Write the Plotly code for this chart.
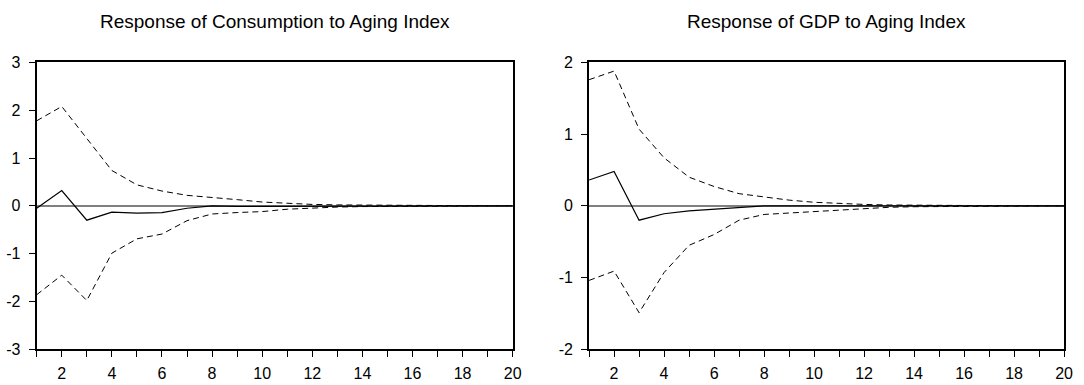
import plotly.graph_objects as go

periods = list(range(1, 21))

cons_resp = [-0.05, 0.32, -0.30, -0.13, -0.15, -0.14, -0.05, 0.0, -0.01, -0.01,
             -0.01, -0.005, 0.0, 0.0, 0.0, 0.0, 0.0, 0.0, 0.0, 0.0]
cons_upper = [1.78, 2.08, 1.41, 0.74, 0.44, 0.31, 0.22, 0.18, 0.13, 0.08,
              0.05, 0.03, 0.02, 0.015, 0.01, 0.005, 0.003, 0.002, 0.001, 0.001]
cons_lower = [-1.86, -1.45, -1.98, -0.99, -0.69, -0.59, -0.31, -0.17, -0.14, -0.12,
              -0.07, -0.04, -0.025, -0.015, -0.01, -0.005, -0.003, -0.002, -0.001, -0.001]

gdp_resp = [0.36, 0.48, -0.20, -0.11, -0.07, -0.05, -0.02, 0.0, 0.0, -0.005,
            0.0, 0.0, 0.0, 0.0, 0.0, 0.0, 0.0, 0.0, 0.0, 0.0]
gdp_upper = [1.76, 1.88, 1.07, 0.67, 0.40, 0.27, 0.17, 0.12, 0.08, 0.05,
             0.03, 0.02, 0.012, 0.008, 0.005, 0.003, 0.002, 0.001, 0.001, 0.0]
gdp_lower = [-1.04, -0.91, -1.49, -0.93, -0.55, -0.40, -0.20, -0.12, -0.10, -0.08,
             -0.05, -0.03, -0.02, -0.012, -0.008, -0.005, -0.003, -0.002, -0.001, 0.0]

titles = ["Response of Consumption to Aging Index", "Response of GDP to Aging Index"]
cons_yticks = [-3, -2, -1, 0, 1, 2, 3]
gdp_yticks = [-2, -1, 0, 1, 2]
x_ticks = [2, 4, 6, 8, 10, 12, 14, 16, 18, 20]

W, H = 1084, 385
FONT = "Liberation Sans, Arial, sans-serif"

fig = go.Figure()

panels = [
    (cons_resp, cons_upper, cons_lower, "x", "y"),
    (gdp_resp, gdp_upper, gdp_lower, "x2", "y2"),
]
for resp, up, lo, xa, ya in panels:
    fig.add_trace(go.Scatter(x=periods, y=up, mode="lines", xaxis=xa, yaxis=ya,
                             line=dict(color="black", width=1, dash="6px,4px"),
                             showlegend=False, hoverinfo="skip"))
    fig.add_trace(go.Scatter(x=periods, y=lo, mode="lines", xaxis=xa, yaxis=ya,
                             line=dict(color="black", width=1, dash="6px,4px"),
                             showlegend=False, hoverinfo="skip"))
    fig.add_trace(go.Scatter(x=periods, y=resp, mode="lines", xaxis=xa, yaxis=ya,
                             line=dict(color="black", width=1.2),
                             showlegend=False))

dom_x = [[37 / W, 517 / W], [594 / W, 1073 / W]]
dom_y = [(H - 357) / H, (H - 57) / H]

def xaxis(d):
    return dict(domain=d, range=[1, 20], tickmode="array", tickvals=x_ticks,
                ticktext=[str(v) for v in x_ticks],
                ticks="outside", ticklen=6, tickcolor="black", tickwidth=1,
                minor=dict(ticks="outside", tickmode="linear", dtick=1, tick0=1,
                           ticklen=6, tickcolor="black", tickwidth=1),
                showline=True, linecolor="black", linewidth=2, mirror=True,
                showgrid=False, zeroline=False, ticklabelstandoff=3,
                tickfont=dict(family=FONT, size=16, color="black"))

def yaxis(ticks, anchor):
    return dict(domain=dom_y, range=[ticks[0], ticks[-1]], anchor=anchor,
                tickmode="array", tickvals=ticks, ticktext=[str(v) for v in ticks],
                ticks="outside", ticklen=6, tickcolor="black", tickwidth=1,
                showline=True, linecolor="black", linewidth=2, mirror=True,
                showgrid=False, zeroline=True, zerolinecolor="#808080",
                zerolinewidth=1.5, ticklabelstandoff=5,
                tickfont=dict(family=FONT, size=16, color="black"))

fig.update_layout(
    width=W, height=H,
    margin=dict(l=0, r=0, t=0, b=0),
    paper_bgcolor="white", plot_bgcolor="white",
    xaxis=dict(xaxis(dom_x[0]), anchor="y"),
    yaxis=yaxis(cons_yticks, "x"),
    xaxis2=dict(xaxis(dom_x[1]), anchor="y2"),
    yaxis2=yaxis(gdp_yticks, "x2"),
)

for i, t in enumerate(titles):
    fig.add_annotation(text=t, xref="paper", yref="paper",
                       x=(dom_x[i][0] + dom_x[i][1]) / 2, y=1 - 14 / H,
                       xanchor="center", yanchor="middle", showarrow=False,
                       font=dict(family=FONT, size=19, color="black"))

fig.write_html("out.html")
